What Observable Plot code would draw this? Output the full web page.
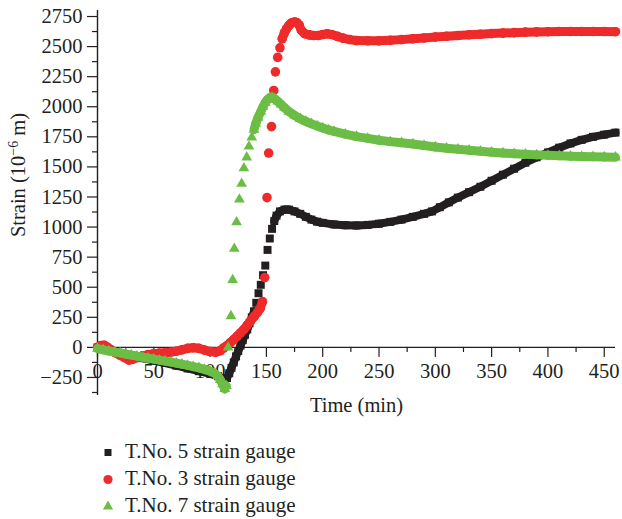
<!DOCTYPE html>
<html><head><meta charset="utf-8">
<script src="https://cdn.jsdelivr.net/npm/d3@7"></script>
<script src="https://cdn.jsdelivr.net/npm/@observablehq/plot@0.6"></script>
<style>
body{margin:0;background:#fff;font-family:"Liberation Serif",serif;color:#231f20;}
#legend{margin-top:13px;}
.row{display:flex;align-items:center;height:27px;font-size:21px;line-height:27px;}
.row svg{margin-left:102px;margin-right:11px;}
</style></head><body>
<div id="chart"></div>
<div id="legend"></div>
<script>
const seriesNames = ["T.No. 5 strain gauge", "T.No. 3 strain gauge", "T.No. 7 strain gauge"];
const seriesColors = ["#231f20", "#ee2a2a", "#6cbd45"];
const seriesSymbols = ["square", "circle", "triangle"];
const xLabel = "Time (min)";
const yLabel = "Strain (10\u22126 m)";
const xTicks = [0, 50, 100, 150, 200, 250, 300, 350, 400, 450];
const yTicks = [-250, 0, 250, 500, 750, 1000, 1250, 1500, 1750, 2000, 2250, 2500, 2750];

// [time (min), strain]
const gauge5 = [[0,0],[5,-15],[10,-28],[20,-48],[30,-68],[40,-90],[50,-110],[60,-130],[70,-152],[80,-175],
[90,-198],[100,-220],[107,-240],[112,-258],[115,-255],[117,-215],[119,-170],[121,-125],[123,-75],[125,-30],
[127,15],[129,60],[131,105],[133,150],[135,200],[137,250],[139,300],[141,370],[143,450],[145,520],
[147,600],[149,680],[151,810],[153,905],[155,985],[157,1050],[159,1095],[162,1130],[166,1145],[170,1145],
[175,1130],[180,1110],[185,1085],[190,1062],[195,1045],[200,1035],[210,1022],[220,1015],[230,1013],[240,1018],
[250,1028],[260,1043],[270,1062],[280,1085],[290,1110],[297,1130],[304,1165],[312,1205],[320,1245],[330,1290],
[340,1335],[350,1385],[360,1435],[370,1485],[380,1535],[390,1580],[400,1620],[410,1660],[420,1695],[430,1725],
[440,1750],[450,1768],[460,1785]];
const gauge3 = [[0,0],[3,15],[6,18],[9,0],[12,-20],[16,-45],[20,-65],[24,-85],[28,-105],[31,-100],
[35,-85],[40,-70],[45,-60],[50,-52],[55,-48],[60,-44],[65,-40],[70,-32],[75,-20],[80,-8],
[85,-3],[90,-8],[95,-22],[100,-35],[105,-40],[109,-28],[112,-5],[115,15],[118,40],[121,65],
[124,92],[127,120],[130,150],[133,185],[136,220],[139,255],[142,290],[144.5,325],[146.5,380],[148.5,580],
[150.5,1245],[152,1615],[154.5,1835],[156.5,2135],[158,2290],[160,2410],[162,2490],[164,2565],[166,2615],[168,2650],
[170,2675],[172,2695],[175,2705],[177,2700],[179,2680],[181,2635],[184,2607],[188,2597],[192,2592],[196,2592],
[200,2600],[204,2607],[208,2600],[213,2585],[218,2570],[224,2558],[230,2550],[240,2548],[250,2548],[260,2552],
[270,2558],[280,2565],[290,2572],[300,2580],[310,2586],[320,2592],[330,2598],[340,2603],[350,2608],[360,2612],
[370,2616],[380,2620],[390,2622],[400,2624],[410,2625],[420,2626],[430,2626],[440,2626],[450,2625],[460,2624]];
const gauge7 = [[0,-10],[5,-20],[10,-30],[15,-38],[20,-46],[25,-55],[30,-64],[35,-73],[40,-82],[45,-90],
[50,-98],[55,-106],[60,-114],[65,-122],[70,-131],[75,-140],[80,-150],[85,-160],[90,-170],[95,-183],
[100,-198],[104,-215],[107,-240],[109,-270],[111,-305],[113,-345],[114.5,-320],[116,0],[118.5,260],[120,560],
[121.5,820],[123.5,1040],[126,1230],[128,1360],[130,1490],[132.5,1580],[134.5,1670],[137,1745],[139,1810],[140.5,1860],
[142.5,1910],[145,1960],[147,2000],[149,2035],[151,2060],[153,2075],[155,2078],[157,2068],[160,2045],[163,2020],
[166,1992],[170,1960],[175,1928],[180,1900],[185,1878],[190,1858],[195,1840],[200,1823],[205,1808],[210,1795],
[220,1772],[230,1752],[240,1737],[250,1722],[260,1710],[270,1700],[280,1690],[290,1678],[300,1665],[310,1655],
[320,1646],[330,1638],[340,1630],[350,1622],[360,1615],[370,1610],[380,1605],[390,1600],[400,1596],[410,1592],
[420,1589],[430,1586],[440,1584],[450,1582],[460,1580]];

const seriesData = [gauge5, gauge3, gauge7];
const bandWidths = [8, 9, 9];
const symbolRadii = [4.5, 4.8, 4];

const W = 622, H = 425, mL = 97, mR = 7, mT = 10, mB = 30;
const xDomain = [0, 460], yDomain = [-400, 2800];
const pxX = (W - mL - mR) / (xDomain[1] - xDomain[0]);
const pxY = (H - mT - mB) / (yDomain[1] - yDomain[0]);

function links(pairs) {
  const out = [];
  for (let i = 1; i < pairs.length; i++) {
    const [t0, v0] = pairs[i - 1], [t1, v1] = pairs[i];
    const dx = (t1 - t0) * pxX, dy = Math.abs(v1 - v0) * pxY;
    if (dx < 14 && dy < 7) out.push({t0, v0, t1, v1});
  }
  return out;
}
const minor = (ticks) => ticks.slice(0, -1).map((d, i) => (d + ticks[i + 1]) / 2);
const xMinor = minor(xTicks);
const yMinor = [-375].concat(minor(yTicks));
const tickDown = {draw(c, l) { c.moveTo(0, 0); c.lineTo(0, l); }};
const ink = "#231f20";

const dataMarks = [];
seriesData.forEach((pairs, i) => {
  dataMarks.push(Plot.link(links(pairs), {x1: "t0", y1: "v0", x2: "t1", y2: "v1",
    stroke: seriesColors[i], strokeWidth: bandWidths[i], strokeLinecap: "round"}));
  dataMarks.push(Plot.dot(pairs, {x: d => d[0], y: d => d[1], symbol: seriesSymbols[i],
    r: symbolRadii[i], fill: seriesColors[i], stroke: null}));
});

const chart = Plot.plot({
  width: W, height: H, marginLeft: mL, marginRight: mR, marginTop: mT, marginBottom: mB,
  style: {fontFamily: "'Liberation Serif', serif", fontSize: "20.5px", color: ink, background: "#fff", overflow: "visible"},
  x: {domain: xDomain, axis: null},
  y: {domain: yDomain, axis: null},
  marks: [
    Plot.axisY(yMinor, {tickSize: 5, tickFormat: () => "", label: null, strokeWidth: 1.2}),
    Plot.axisY(yTicks, {tickSize: 10, tickPadding: 5, tickFormat: d3.format("d"), label: null, strokeWidth: 1.2}),
    Plot.ruleX([0], {stroke: ink, strokeWidth: 1.4}),
    Plot.ruleY([0], {stroke: ink, strokeWidth: 1.4}),
    Plot.vector(xTicks, {x: d => d, y: () => 0, length: 9, anchor: "start", shape: tickDown, stroke: ink, strokeWidth: 1.2}),
    Plot.vector(xMinor, {x: d => d, y: () => 0, length: 4, anchor: "start", shape: tickDown, stroke: ink, strokeWidth: 1.2}),
    Plot.text(xTicks, {x: d => d, y: () => 0, text: d => String(d), dy: 16.5, lineAnchor: "top", fill: ink}),
    Plot.text([xLabel], {frameAnchor: "bottom", dy: 10, lineAnchor: "middle", textAnchor: "middle", fill: ink}),
    Plot.text([yLabel], {frameAnchor: "left", rotate: -90, dx: -79, dy: -28, lineAnchor: "middle", textAnchor: "middle", fill: ink}),
    ...dataMarks
  ]
});
document.getElementById("chart").appendChild(chart);

// superscript exponent in the y label
chart.querySelectorAll("text").forEach(t => {
  if (t.textContent === yLabel) {
    const ns = "http://www.w3.org/2000/svg";
    t.textContent = "";
    const a = document.createElementNS(ns, "tspan"); a.textContent = "Strain (10";
    const b = document.createElementNS(ns, "tspan"); b.textContent = "\u22126"; b.setAttribute("dy", "-7"); b.setAttribute("font-size", "14");
    const c = document.createElementNS(ns, "tspan"); c.textContent = "\u00a0m)"; c.setAttribute("dy", "7");
    t.append(a, b, c);
  }
});

// legend
const legend = document.getElementById("legend");
const symbolMap = {square: [d3.symbolSquare, 49], circle: [d3.symbolCircle, 66], triangle: [d3.symbolTriangle, 45]};
seriesNames.forEach((name, i) => {
  const row = document.createElement("div"); row.className = "row";
  const s = d3.create("svg").attr("width", 12).attr("height", 12);
  const [sym, size] = symbolMap[seriesSymbols[i]];
  s.append("path").attr("transform", "translate(6,6.5)").attr("d", d3.symbol(sym, size)()).attr("fill", seriesColors[i]);
  row.appendChild(s.node());
  const span = document.createElement("span"); span.textContent = name;
  row.appendChild(span);
  legend.appendChild(row);
});
</script>
</body></html>
